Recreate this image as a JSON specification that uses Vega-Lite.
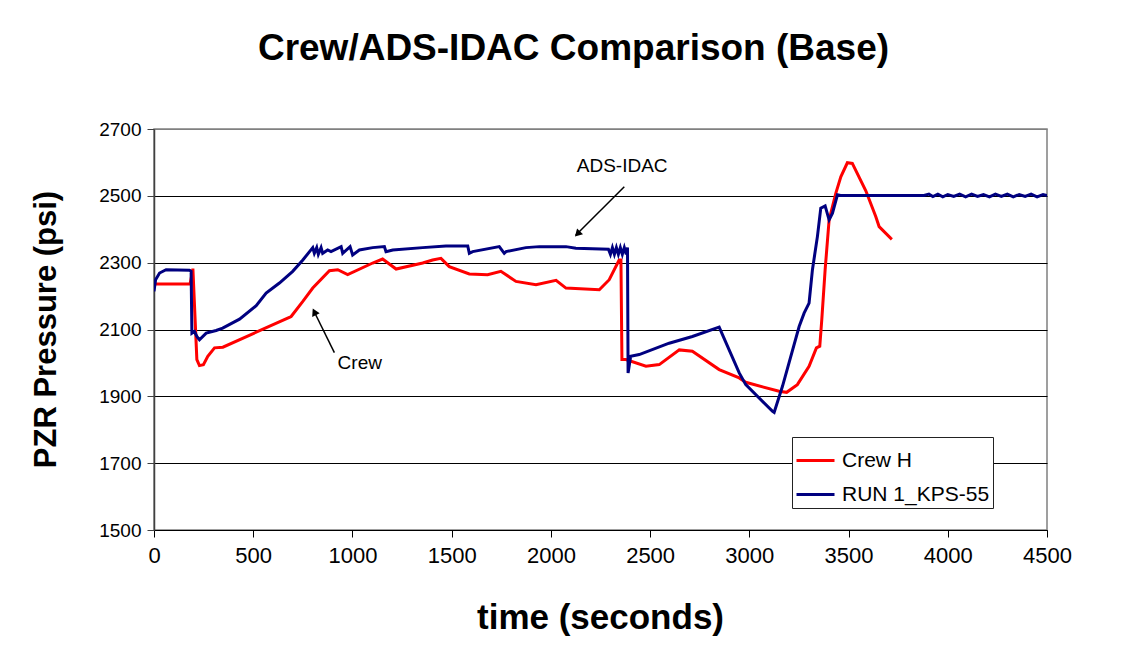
{
  "$schema": "https://vega.github.io/schema/vega-lite/v6.json",
  "width": 893,
  "height": 401,
  "autosize": {"type": "none"},
  "padding": {"left": 154, "top": 129, "right": 92, "bottom": 119},
  "background": "white",
  "config": {
    "font": "Liberation Sans",
    "view": {"stroke": "#808080", "strokeWidth": 1.5}
  },
  "title": {
    "text": "Crew/ADS-IDAC Comparison (Base)",
    "fontSize": 37,
    "font": "Liberation Sans",
    "fontWeight": "bold",
    "color": "black",
    "anchor": "middle",
    "dx": -27,
    "offset": 52
  },
  "datasets": {
    "series": [
      {"series": "Crew H", "t": 0, "p": 2236},
      {"series": "Crew H", "t": 182, "p": 2236},
      {"series": "Crew H", "t": 196, "p": 2282},
      {"series": "Crew H", "t": 216, "p": 2010},
      {"series": "Crew H", "t": 229, "p": 1992},
      {"series": "Crew H", "t": 249, "p": 1995},
      {"series": "Crew H", "t": 271, "p": 2020},
      {"series": "Crew H", "t": 305, "p": 2045},
      {"series": "Crew H", "t": 347, "p": 2047},
      {"series": "Crew H", "t": 500, "p": 2088},
      {"series": "Crew H", "t": 682, "p": 2136},
      {"series": "Crew H", "t": 691, "p": 2139},
      {"series": "Crew H", "t": 750, "p": 2184},
      {"series": "Crew H", "t": 800, "p": 2224},
      {"series": "Crew H", "t": 884, "p": 2276},
      {"series": "Crew H", "t": 926, "p": 2279},
      {"series": "Crew H", "t": 976, "p": 2264},
      {"series": "Crew H", "t": 1102, "p": 2299},
      {"series": "Crew H", "t": 1152, "p": 2311},
      {"series": "Crew H", "t": 1220, "p": 2281},
      {"series": "Crew H", "t": 1354, "p": 2299},
      {"series": "Crew H", "t": 1404, "p": 2308},
      {"series": "Crew H", "t": 1446, "p": 2313},
      {"series": "Crew H", "t": 1488, "p": 2288},
      {"series": "Crew H", "t": 1589, "p": 2266},
      {"series": "Crew H", "t": 1681, "p": 2264},
      {"series": "Crew H", "t": 1748, "p": 2274},
      {"series": "Crew H", "t": 1824, "p": 2244},
      {"series": "Crew H", "t": 1925, "p": 2234},
      {"series": "Crew H", "t": 2026, "p": 2247},
      {"series": "Crew H", "t": 2076, "p": 2224},
      {"series": "Crew H", "t": 2244, "p": 2219},
      {"series": "Crew H", "t": 2294, "p": 2249},
      {"series": "Crew H", "t": 2344, "p": 2308},
      {"series": "Crew H", "t": 2353, "p": 2308},
      {"series": "Crew H", "t": 2358, "p": 2010},
      {"series": "Crew H", "t": 2378, "p": 2010},
      {"series": "Crew H", "t": 2479, "p": 1990},
      {"series": "Crew H", "t": 2546, "p": 1995},
      {"series": "Crew H", "t": 2647, "p": 2039},
      {"series": "Crew H", "t": 2713, "p": 2035},
      {"series": "Crew H", "t": 2848, "p": 1980},
      {"series": "Crew H", "t": 2949, "p": 1955},
      {"series": "Crew H", "t": 2982, "p": 1942},
      {"series": "Crew H", "t": 3150, "p": 1915},
      {"series": "Crew H", "t": 3188, "p": 1912},
      {"series": "Crew H", "t": 3242, "p": 1935},
      {"series": "Crew H", "t": 3301, "p": 1990},
      {"series": "Crew H", "t": 3338, "p": 2045},
      {"series": "Crew H", "t": 3355, "p": 2050},
      {"series": "Crew H", "t": 3365, "p": 2129},
      {"series": "Crew H", "t": 3382, "p": 2279},
      {"series": "Crew H", "t": 3402, "p": 2428},
      {"series": "Crew H", "t": 3436, "p": 2508},
      {"series": "Crew H", "t": 3461, "p": 2557},
      {"series": "Crew H", "t": 3494, "p": 2599},
      {"series": "Crew H", "t": 3519, "p": 2597},
      {"series": "Crew H", "t": 3587, "p": 2515},
      {"series": "Crew H", "t": 3637, "p": 2438},
      {"series": "Crew H", "t": 3654, "p": 2408},
      {"series": "Crew H", "t": 3713, "p": 2373},
      {"series": "Crew H", "t": 3718, "p": 2376},
      {"series": "RUN 1_KPS-55", "t": 0, "p": 2214},
      {"series": "RUN 1_KPS-55", "t": 8, "p": 2249},
      {"series": "RUN 1_KPS-55", "t": 28, "p": 2269},
      {"series": "RUN 1_KPS-55", "t": 61, "p": 2279},
      {"series": "RUN 1_KPS-55", "t": 179, "p": 2277},
      {"series": "RUN 1_KPS-55", "t": 187, "p": 2274},
      {"series": "RUN 1_KPS-55", "t": 191, "p": 2089},
      {"series": "RUN 1_KPS-55", "t": 204, "p": 2094},
      {"series": "RUN 1_KPS-55", "t": 216, "p": 2079},
      {"series": "RUN 1_KPS-55", "t": 229, "p": 2069},
      {"series": "RUN 1_KPS-55", "t": 263, "p": 2089},
      {"series": "RUN 1_KPS-55", "t": 313, "p": 2097},
      {"series": "RUN 1_KPS-55", "t": 346, "p": 2104},
      {"series": "RUN 1_KPS-55", "t": 431, "p": 2131},
      {"series": "RUN 1_KPS-55", "t": 515, "p": 2171},
      {"series": "RUN 1_KPS-55", "t": 565, "p": 2209},
      {"series": "RUN 1_KPS-55", "t": 632, "p": 2239},
      {"series": "RUN 1_KPS-55", "t": 699, "p": 2274},
      {"series": "RUN 1_KPS-55", "t": 750, "p": 2308},
      {"series": "RUN 1_KPS-55", "t": 800, "p": 2345},
      {"series": "RUN 1_KPS-55", "t": 808, "p": 2328},
      {"series": "RUN 1_KPS-55", "t": 820, "p": 2345},
      {"series": "RUN 1_KPS-55", "t": 828, "p": 2325},
      {"series": "RUN 1_KPS-55", "t": 842, "p": 2345},
      {"series": "RUN 1_KPS-55", "t": 850, "p": 2328},
      {"series": "RUN 1_KPS-55", "t": 875, "p": 2338},
      {"series": "RUN 1_KPS-55", "t": 892, "p": 2333},
      {"series": "RUN 1_KPS-55", "t": 943, "p": 2348},
      {"series": "RUN 1_KPS-55", "t": 951, "p": 2328},
      {"series": "RUN 1_KPS-55", "t": 988, "p": 2348},
      {"series": "RUN 1_KPS-55", "t": 1001, "p": 2323},
      {"series": "RUN 1_KPS-55", "t": 1035, "p": 2338},
      {"series": "RUN 1_KPS-55", "t": 1102, "p": 2345},
      {"series": "RUN 1_KPS-55", "t": 1161, "p": 2348},
      {"series": "RUN 1_KPS-55", "t": 1169, "p": 2333},
      {"series": "RUN 1_KPS-55", "t": 1203, "p": 2338},
      {"series": "RUN 1_KPS-55", "t": 1354, "p": 2345},
      {"series": "RUN 1_KPS-55", "t": 1471, "p": 2350},
      {"series": "RUN 1_KPS-55", "t": 1581, "p": 2350},
      {"series": "RUN 1_KPS-55", "t": 1589, "p": 2328},
      {"series": "RUN 1_KPS-55", "t": 1606, "p": 2333},
      {"series": "RUN 1_KPS-55", "t": 1740, "p": 2348},
      {"series": "RUN 1_KPS-55", "t": 1765, "p": 2328},
      {"series": "RUN 1_KPS-55", "t": 1774, "p": 2333},
      {"series": "RUN 1_KPS-55", "t": 1874, "p": 2345},
      {"series": "RUN 1_KPS-55", "t": 1942, "p": 2348},
      {"series": "RUN 1_KPS-55", "t": 2076, "p": 2348},
      {"series": "RUN 1_KPS-55", "t": 2126, "p": 2343},
      {"series": "RUN 1_KPS-55", "t": 2290, "p": 2340},
      {"series": "RUN 1_KPS-55", "t": 2300, "p": 2325},
      {"series": "RUN 1_KPS-55", "t": 2310, "p": 2345},
      {"series": "RUN 1_KPS-55", "t": 2320, "p": 2325},
      {"series": "RUN 1_KPS-55", "t": 2330, "p": 2345},
      {"series": "RUN 1_KPS-55", "t": 2340, "p": 2325},
      {"series": "RUN 1_KPS-55", "t": 2350, "p": 2345},
      {"series": "RUN 1_KPS-55", "t": 2360, "p": 2325},
      {"series": "RUN 1_KPS-55", "t": 2370, "p": 2345},
      {"series": "RUN 1_KPS-55", "t": 2380, "p": 2325},
      {"series": "RUN 1_KPS-55", "t": 2386, "p": 2345},
      {"series": "RUN 1_KPS-55", "t": 2389, "p": 1970},
      {"series": "RUN 1_KPS-55", "t": 2402, "p": 2020},
      {"series": "RUN 1_KPS-55", "t": 2445, "p": 2025},
      {"series": "RUN 1_KPS-55", "t": 2596, "p": 2059},
      {"series": "RUN 1_KPS-55", "t": 2713, "p": 2079},
      {"series": "RUN 1_KPS-55", "t": 2848, "p": 2107},
      {"series": "RUN 1_KPS-55", "t": 2949, "p": 1970},
      {"series": "RUN 1_KPS-55", "t": 2982, "p": 1935},
      {"series": "RUN 1_KPS-55", "t": 3117, "p": 1855},
      {"series": "RUN 1_KPS-55", "t": 3125, "p": 1852},
      {"series": "RUN 1_KPS-55", "t": 3167, "p": 1930},
      {"series": "RUN 1_KPS-55", "t": 3251, "p": 2109},
      {"series": "RUN 1_KPS-55", "t": 3276, "p": 2149},
      {"series": "RUN 1_KPS-55", "t": 3301, "p": 2179},
      {"series": "RUN 1_KPS-55", "t": 3318, "p": 2279},
      {"series": "RUN 1_KPS-55", "t": 3343, "p": 2378},
      {"series": "RUN 1_KPS-55", "t": 3360, "p": 2463},
      {"series": "RUN 1_KPS-55", "t": 3382, "p": 2470},
      {"series": "RUN 1_KPS-55", "t": 3402, "p": 2428},
      {"series": "RUN 1_KPS-55", "t": 3419, "p": 2448},
      {"series": "RUN 1_KPS-55", "t": 3444, "p": 2503},
      {"series": "RUN 1_KPS-55", "t": 3460, "p": 2501},
      {"series": "RUN 1_KPS-55", "t": 3880, "p": 2501},
      {"series": "RUN 1_KPS-55", "t": 3905, "p": 2505},
      {"series": "RUN 1_KPS-55", "t": 3925, "p": 2498},
      {"series": "RUN 1_KPS-55", "t": 3950, "p": 2505},
      {"series": "RUN 1_KPS-55", "t": 3975, "p": 2497},
      {"series": "RUN 1_KPS-55", "t": 4000, "p": 2504},
      {"series": "RUN 1_KPS-55", "t": 4030, "p": 2498},
      {"series": "RUN 1_KPS-55", "t": 4060, "p": 2505},
      {"series": "RUN 1_KPS-55", "t": 4090, "p": 2497},
      {"series": "RUN 1_KPS-55", "t": 4120, "p": 2505},
      {"series": "RUN 1_KPS-55", "t": 4150, "p": 2498},
      {"series": "RUN 1_KPS-55", "t": 4180, "p": 2504},
      {"series": "RUN 1_KPS-55", "t": 4210, "p": 2497},
      {"series": "RUN 1_KPS-55", "t": 4240, "p": 2505},
      {"series": "RUN 1_KPS-55", "t": 4270, "p": 2498},
      {"series": "RUN 1_KPS-55", "t": 4300, "p": 2505},
      {"series": "RUN 1_KPS-55", "t": 4330, "p": 2497},
      {"series": "RUN 1_KPS-55", "t": 4360, "p": 2504},
      {"series": "RUN 1_KPS-55", "t": 4390, "p": 2498},
      {"series": "RUN 1_KPS-55", "t": 4420, "p": 2505},
      {"series": "RUN 1_KPS-55", "t": 4450, "p": 2497},
      {"series": "RUN 1_KPS-55", "t": 4480, "p": 2504},
      {"series": "RUN 1_KPS-55", "t": 4500, "p": 2501}
    ],
    "labels": [
      {"label": "ADS-IDAC", "t": 2359, "p": 2589},
      {"label": "Crew", "t": 1037, "p": 2001}
    ],
    "arrows": [
      {"name": "ads", "t": 2370, "p": 2527, "t2": 2125, "p2": 2382},
      {"name": "crew", "t": 909, "p": 2031, "t2": 805, "p2": 2156}
    ],
    "headAds": [{"t": 2134, "p": 2386}],
    "headCrew": [{"t": 808, "p": 2153}]
  },
  "layer": [
    {
      "data": {"name": "series"},
      "mark": {"type": "line", "strokeWidth": 3, "clip": true},
      "encoding": {
        "x": {
          "field": "t",
          "type": "quantitative",
          "scale": {"domain": [0, 4500], "nice": false},
          "axis": {
            "values": [0, 500, 1000, 1500, 2000, 2500, 3000, 3500, 4000, 4500],
            "format": "d",
            "grid": false,
            "labelFontSize": 22,
            "labelColor": "black",
            "labelPadding": 8,
            "labelFlush": false,
            "labelOverlap": false,
            "tickSize": 7,
            "tickColor": "black",
            "domainColor": "black",
            "domainWidth": 1,
            "title": "time (seconds)",
            "titleFontSize": 35,
            "titleFontWeight": "bold",
            "titleColor": "black",
            "titleX": 446,
            "titleY": 87,
            "titleBaseline": "middle",
            "titleAlign": "center"
          }
        },
        "y": {
          "field": "p",
          "type": "quantitative",
          "scale": {"domain": [1500, 2700], "nice": false},
          "axis": {
            "values": [1500, 1700, 1900, 2100, 2300, 2500, 2700],
            "format": "d",
            "grid": true,
            "gridColor": {"condition": {"test": "datum.value === 2700", "value": "#808080"}, "value": "black"},
            "gridWidth": 1,
            "labelFontSize": 19,
            "labelColor": "black",
            "labelPadding": 6,
            "tickSize": 7,
            "tickColor": "#404040",
            "domainColor": "#404040",
            "domainWidth": 1.5,
            "title": "PZR Pressure (psi)",
            "titleFontSize": 31,
            "titleFontWeight": "bold",
            "titleColor": "black",
            "titleX": -108,
            "titleY": 200,
            "titleAngle": 270,
            "titleAlign": "center",
            "titleBaseline": "middle"
          }
        },
        "color": {
          "field": "series",
          "type": "nominal",
          "scale": {"domain": ["Crew H", "RUN 1_KPS-55"], "range": ["#FF0000", "#000080"]},
          "legend": {
            "orient": "none",
            "legendX": 638,
            "legendY": 308,
            "title": null,
            "symbolType": "stroke",
            "symbolSize": 1444,
            "symbolStrokeWidth": 3,
            "labelFontSize": 21,
            "labelColor": "black",
            "labelOffset": 6,
            "strokeColor": "#222222",
            "fillColor": "white",
            "padding": 3,
            "rowPadding": 3
          }
        }
      }
    },
    {
      "data": {"name": "arrows"},
      "mark": {"type": "rule", "color": "black", "strokeWidth": 1.5},
      "encoding": {
        "x": {"field": "t", "type": "quantitative"},
        "y": {"field": "p", "type": "quantitative"},
        "x2": {"field": "t2"},
        "y2": {"field": "p2"}
      }
    },
    {
      "data": {"name": "headAds"},
      "mark": {"type": "point", "shape": "triangle-up", "filled": true, "color": "black", "size": 70, "angle": 225, "opacity": 1},
      "encoding": {
        "x": {"field": "t", "type": "quantitative"},
        "y": {"field": "p", "type": "quantitative"}
      }
    },
    {
      "data": {"name": "headCrew"},
      "mark": {"type": "point", "shape": "triangle-up", "filled": true, "color": "black", "size": 70, "angle": 334, "opacity": 1},
      "encoding": {
        "x": {"field": "t", "type": "quantitative"},
        "y": {"field": "p", "type": "quantitative"}
      }
    },
    {
      "data": {"name": "labels"},
      "mark": {"type": "text", "fontSize": 19, "color": "black", "align": "center", "baseline": "middle", "font": "Liberation Sans"},
      "encoding": {
        "x": {"field": "t", "type": "quantitative"},
        "y": {"field": "p", "type": "quantitative"},
        "text": {"field": "label"}
      }
    }
  ]
}
